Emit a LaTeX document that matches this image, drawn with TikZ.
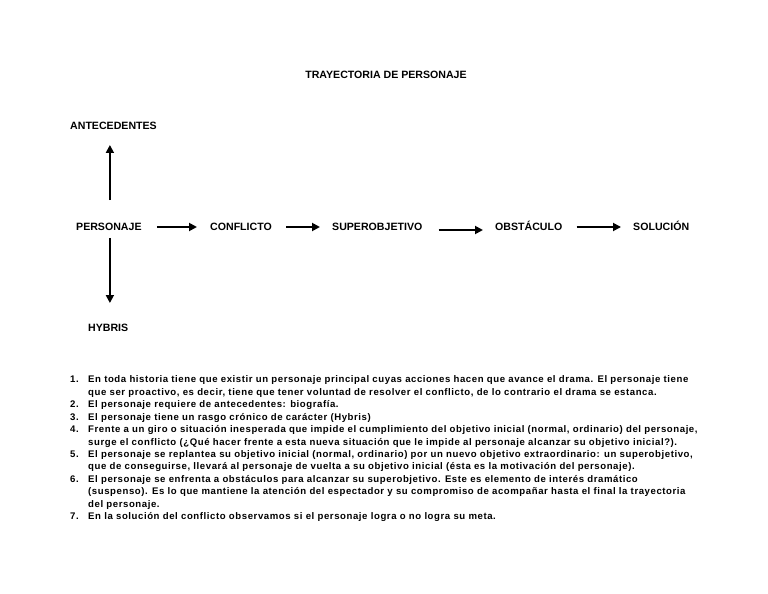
\documentclass[tikz,border=0pt]{standalone}
\usepackage{fontspec}
\setmainfont{Liberation Sans}
\newfontfamily\notesfont[LetterSpace=6]{Liberation Sans}
\usetikzlibrary{arrows.meta}
\usetikzlibrary{positioning}
\begin{document}
\begin{tikzpicture}[x=1bp,y=-1bp,
    stage/.style={font=\bfseries\fontsize{10.6bp}{12bp}\selectfont, inner sep=0pt, text height=7.6bp, text depth=0pt},
    listing/.style={font=\notesfont\bfseries\fontsize{9.6bp}{12.45bp}\selectfont, inner sep=0pt},
    flow/.style={-{Triangle[length=8bp,width=8bp]}, line width=1.8bp}]
      \useasboundingbox[fill=white] (0,0) rectangle (768,594);

      \node[stage] (title) at (386,75) {TRAYECTORIA DE PERSONAJE};

      \node[stage, anchor=west] (ante) at (70,126)  {ANTECEDENTES};
      \node[stage, anchor=west] (pers) at (76,227)  {PERSONAJE};
      \node[stage, anchor=west] (conf) at (210,227) {CONFLICTO};
      \node[stage, anchor=west] (sup)  at (332,227) {SUPEROBJETIVO};
      \node[stage, anchor=west] (obs)  at (495,227) {OBST\'ACULO};
      \node[stage, anchor=west] (sol)  at (633,227) {SOLUCI\'ON};
      \node[stage, anchor=west] (hyb)  at (88,328)  {HYBRIS};

      \draw[flow, shorten <=23bp, shorten >=15bp] ([xshift=1bp]pers.north) -- ([xshift=1bp]pers.north |- ante.south);
      \draw[flow, shorten <=7bp, shorten >=21bp] ([xshift=1bp]pers.south) -- ([xshift=1bp]pers.south |- hyb.north);
      \draw[flow, shorten <=15bp, shorten >=13bp] (pers) -- (conf);
      \draw[flow, shorten <=14bp, shorten >=12bp] (conf) -- (sup);
      \draw[flow, shorten <=16bp, shorten >=12bp] ([yshift=-3bp]sup.east) -- ([yshift=-3bp]obs.west);
      \draw[flow, shorten <=14bp, shorten >=12bp] (obs) -- (sol);

      \node[listing, anchor=north west] (notes) at (70,373.9) {\begin{tabular}{@{}p{18bp}@{}l@{}}
1. & En toda historia tiene que existir un personaje principal cuyas acciones hacen que avance el drama. El personaje tiene\\
   & que ser proactivo, es decir, tiene que tener voluntad de resolver el conflicto, de lo contrario el drama se estanca.\\
2. & El personaje requiere de antecedentes: biografía.\\
3. & El personaje tiene un rasgo crónico de carácter (Hybris)\\
4. & Frente a un giro o situación inesperada que impide el cumplimiento del objetivo inicial (normal, ordinario) del personaje,\\
   & surge el conflicto (¿Qué hacer frente a esta nueva situación que le impide al personaje alcanzar su objetivo inicial?).\\
5. & El personaje se replantea su objetivo inicial (normal, ordinario) por un nuevo objetivo extraordinario: un superobjetivo,\\
   & que de conseguirse, llevará al personaje de vuelta a su objetivo inicial (ésta es la motivación del personaje).\\
6. & El personaje se enfrenta a obstáculos para alcanzar su superobjetivo. Este es elemento de interés dramático\\
   & (suspenso). Es lo que mantiene la atención del espectador y su compromiso de acompañar hasta el final la trayectoria\\
   & del personaje.\\
7. & En la solución del conflicto observamos si el personaje logra o no logra su meta.
\end{tabular}};
    \end{tikzpicture}
\end{document}
